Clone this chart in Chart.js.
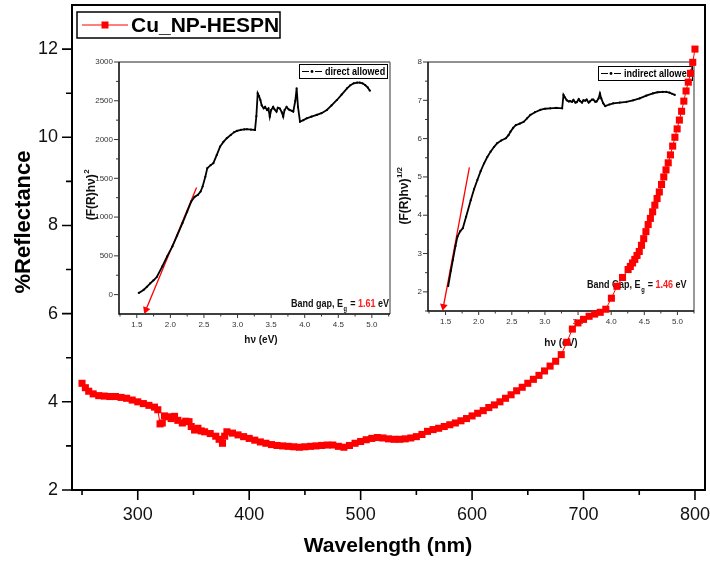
<!DOCTYPE html>
<html>
<head>
<meta charset="utf-8">
<script src="https://cdn.jsdelivr.net/npm/chart.js@4.4.1/dist/chart.umd.min.js"></script>
<style>
  html, body { margin: 0; padding: 0; background: #fff; }
  #wrap { position: relative; width: 710px; height: 563px; }
  canvas { position: absolute; }
</style>
</head>
<body>
<div id="wrap">
  <canvas id="inset1" width="315" height="300" style="left:80px;top:52px"></canvas>
  <canvas id="inset2" width="310" height="300" style="left:390px;top:52px"></canvas>
  <canvas id="main" width="710" height="563" style="left:0;top:0"></canvas>
</div>
<script>
// main curve: reflectance vs wavelength
const WAVELENGTH = [250, 253, 256, 260, 265, 270, 275, 280, 285, 290, 295, 300, 305, 310, 315, 318,
  320, 322, 324, 327, 330, 333, 336, 340, 343, 346, 348, 351, 354, 357, 360, 365, 370, 373, 376, 378,
  380, 385, 390, 395, 400, 405, 410, 415, 420, 425, 430, 435, 440, 445, 450, 455, 460, 465, 470, 475,
  480, 485, 490, 495, 500, 505, 510, 515, 520, 525, 530, 535, 540, 545, 550, 555, 560, 565, 570, 575,
  580, 585, 590, 595, 600, 605, 610, 615, 620, 625, 630, 635, 640, 645, 650, 655, 660, 665, 670, 675,
  680, 685, 690, 695, 700, 705, 710, 715, 720, 725, 730, 735, 740, 742, 744, 746, 748, 750, 752, 754,
  756, 758, 760, 762, 764, 766, 768, 770, 772, 774, 776, 778, 780, 782, 784, 786, 788, 790, 792, 794,
  796, 798, 800];
const REFLECTANCE = [4.42, 4.32, 4.24, 4.18, 4.14, 4.13, 4.12, 4.12, 4.10, 4.08, 4.04, 4.00, 3.96, 3.92, 3.88, 3.82,
  3.50, 3.52, 3.68, 3.66, 3.62, 3.67, 3.58, 3.52, 3.56, 3.55, 3.44, 3.36, 3.40, 3.34, 3.32, 3.28, 3.22, 3.15, 3.06, 3.22,
  3.32, 3.29, 3.25, 3.21, 3.17, 3.13, 3.09, 3.06, 3.03, 3.01, 3.00, 2.99, 2.98, 2.97, 2.98, 2.99, 3.00, 3.01, 3.02, 3.02,
  2.99, 2.97, 3.01, 3.06, 3.10, 3.14, 3.17, 3.19, 3.18, 3.16, 3.15, 3.15, 3.16, 3.18, 3.21, 3.26, 3.33, 3.37, 3.40, 3.44,
  3.48, 3.52, 3.57, 3.62, 3.68, 3.74, 3.80, 3.87, 3.93, 4.00, 4.08, 4.16, 4.25, 4.33, 4.42, 4.51, 4.60, 4.70, 4.81, 4.92,
  5.07, 5.35, 5.65, 5.79, 5.87, 5.94, 5.99, 6.03, 6.10, 6.35, 6.62, 6.82, 7.00, 7.07, 7.15, 7.23, 7.32, 7.41, 7.55, 7.70,
  7.86, 8.02, 8.16, 8.31, 8.46, 8.61, 8.76, 8.93, 9.10, 9.26, 9.42, 9.60, 9.80, 10.00, 10.19, 10.39, 10.59, 10.82, 11.05, 11.25,
  11.45, 11.70, 12.00];
const X_TICKS = [250, 300, 350, 400, 450, 500, 550, 600, 650, 700, 750, 800];
const Y_TICKS = [2, 3, 4, 5, 6, 7, 8, 9, 10, 11, 12];

// inset 1: direct allowed Tauc plot
const DIRECT_HV = [1.53, 1.60, 1.65, 1.70, 1.75, 1.80, 1.88, 1.95, 2.03, 2.10, 2.18, 2.25, 2.31, 2.36, 2.41, 2.45,
  2.48, 2.52, 2.55, 2.60, 2.64, 2.69, 2.74, 2.79, 2.84, 2.90, 2.95, 2.99, 3.05, 3.10, 3.14, 3.20, 3.26, 3.28, 3.30,
  3.32, 3.34, 3.36, 3.39, 3.41, 3.44, 3.46, 3.48, 3.50, 3.53, 3.55, 3.58, 3.60, 3.63, 3.66, 3.68, 3.70, 3.73, 3.76,
  3.78, 3.81, 3.83, 3.86, 3.88, 3.90, 3.93, 3.98, 4.03, 4.10, 4.18, 4.25, 4.33, 4.40, 4.48, 4.55, 4.63, 4.68, 4.73,
  4.78, 4.82, 4.86, 4.90, 4.94, 4.97];
const DIRECT_VAL = [22, 60, 100, 145, 185, 230, 364, 490, 622, 760, 923, 1070, 1200, 1260, 1287, 1330,
  1394, 1520, 1631, 1670, 1695, 1800, 1909, 1970, 2017, 2060, 2095, 2111, 2125, 2130, 2133, 2128, 2123, 2300, 2596,
  2560, 2510, 2440, 2403, 2420, 2380, 2400, 2295, 2380, 2420, 2390, 2360, 2410, 2400, 2350, 2295, 2380, 2420, 2390,
  2380, 2370, 2360, 2500, 2660, 2420, 2230, 2250, 2274, 2295, 2317, 2340, 2381, 2440, 2510, 2580, 2660, 2700, 2725,
  2733, 2733, 2725, 2703, 2670, 2630];
const DIRECT_FIT_HV = [1.636, 2.39];
const DIRECT_FIT_VAL = [-195, 1380];
const DIRECT_X_TICKS = [1.25, 1.5, 1.75, 2, 2.25, 2.5, 2.75, 3, 3.25, 3.5, 3.75, 4, 4.25, 4.5, 4.75, 5, 5.25];
const DIRECT_Y_TICKS = [0, 250, 500, 750, 1000, 1250, 1500, 1750, 2000, 2250, 2500, 2750, 3000];

// inset 2: indirect allowed Tauc plot
const INDIRECT_HV = [1.54, 1.58, 1.61, 1.65, 1.68, 1.72, 1.76, 1.81, 1.88, 1.93, 1.98, 2.03, 2.08, 2.13, 2.18, 2.23,
  2.28, 2.34, 2.41, 2.45, 2.48, 2.52, 2.56, 2.62, 2.68, 2.73, 2.78, 2.85, 2.93, 3.00, 3.08, 3.17, 3.26, 3.28, 3.30,
  3.33, 3.36, 3.38, 3.41, 3.43, 3.46, 3.48, 3.51, 3.53, 3.56, 3.58, 3.61, 3.63, 3.66, 3.68, 3.71, 3.73, 3.76, 3.78,
  3.81, 3.83, 3.85, 3.88, 3.91, 3.97, 4.03, 4.13, 4.23, 4.33, 4.43, 4.53, 4.63, 4.70, 4.78, 4.83, 4.88, 4.92, 4.96];
const INDIRECT_VAL = [2.15, 2.55, 2.83, 3.20, 3.44, 3.58, 3.66, 3.96, 4.39, 4.68, 4.92, 5.15, 5.35, 5.52, 5.66, 5.78,
  5.88, 5.95, 6.01, 6.09, 6.18, 6.28, 6.35, 6.39, 6.44, 6.53, 6.62, 6.69, 6.75, 6.78, 6.79, 6.80, 6.79, 7.14, 7.08,
  7.00, 6.97, 6.98, 6.96, 7.01, 6.94, 6.95, 7.03, 6.98, 6.94, 7.00, 6.99, 7.02, 6.94, 6.97, 7.02, 7.02, 6.96, 6.97,
  7.05, 7.18, 7.05, 6.92, 6.85, 6.89, 6.92, 6.94, 6.96, 7.00, 7.05, 7.12, 7.18, 7.21, 7.22, 7.22, 7.20, 7.17, 7.14];
const INDIRECT_FIT_HV = [1.468, 1.86];
const INDIRECT_FIT_VAL = [1.62, 5.25];
const INDIRECT_X_TICKS = [1.25, 1.5, 1.75, 2, 2.25, 2.5, 2.75, 3, 3.25, 3.5, 3.75, 4, 4.25, 4.5, 4.75, 5, 5.25];
const INDIRECT_Y_TICKS = [1.5, 2, 2.5, 3, 3.5, 4, 4.5, 5, 5.5, 6, 6.5, 7, 7.5, 8];

const FONT = "'Liberation Sans', Arial, Helvetica, sans-serif";
const NO_GRID = { display: false, drawTicks: false, tickLength: 0 };

function isMajor(v, step) {
  return Math.abs(v / step - Math.round(v / step)) < 1e-6;
}

function toPoints(xs, ys) {
  return xs.map((x, i) => ({ x: x, y: ys[i] }));
}

// draws tick marks from the scale's own ticks, long for major, short for minor
function drawTicks(ctx, scale, side, pos, majorStep, majorLen, minorLen) {
  ctx.beginPath();
  scale.ticks.forEach(t => {
    const p = scale.getPixelForValue(t.value);
    const len = isMajor(t.value, majorStep) ? majorLen : minorLen;
    if (side === 'bottom') { ctx.moveTo(p, pos); ctx.lineTo(p, pos + len); }
    else { ctx.moveTo(pos, p); ctx.lineTo(pos - len, p); }
  });
  ctx.stroke();
}

// text squeezed horizontally (narrow look of the original labels)
function narrowText(ctx, text, x, y, sx) {
  ctx.save();
  ctx.translate(x, y);
  ctx.scale(sx, 1);
  ctx.fillText(text, 0, 0);
  ctx.restore();
  return ctx.measureText(text).width * sx;
}

function fixedTicks(list) {
  return s => { s.ticks = list.filter(v => v >= s.min - 1e-9 && v <= s.max + 1e-9).map(v => ({ value: v })); };
}

const mainDeco = {
  id: 'mainDeco',
  beforeDatasetsDraw(chart) {
    const { ctx, chartArea: a, scales } = chart;
    ctx.save();
    ctx.strokeStyle = '#000';
    ctx.lineWidth = 2;
    ctx.strokeRect(a.left, a.top, a.right - a.left, a.bottom - a.top);
    ctx.lineWidth = 1.6;
    drawTicks(ctx, scales.x, 'bottom', a.bottom, 100, 10, 5);
    drawTicks(ctx, scales.y, 'left', a.left, 2, 10, 6);
    ctx.restore();
  },
  afterDraw(chart) {
    const ctx = chart.ctx;
    ctx.save();
    ctx.fillStyle = '#000';
    ctx.font = 'bold 21px ' + FONT;
    ctx.textAlign = 'center';
    ctx.textBaseline = 'middle';
    ctx.fillText('Wavelength (nm)', 388, 546);
    ctx.save();
    ctx.translate(24, 222);
    ctx.rotate(-Math.PI / 2);
    ctx.font = 'bold 22px ' + FONT;
    ctx.fillText('%Reflectance', 0, 0);
    ctx.restore();

    // legend box
    ctx.fillStyle = '#fff';
    ctx.fillRect(77, 12, 203, 26);
    ctx.strokeStyle = '#000';
    ctx.lineWidth = 1.5;
    ctx.strokeRect(77, 12, 203, 26);
    ctx.strokeStyle = '#f00';
    ctx.lineWidth = 1.2;
    ctx.beginPath();
    ctx.moveTo(82, 25);
    ctx.lineTo(128, 25);
    ctx.stroke();
    ctx.fillStyle = '#f00';
    ctx.fillRect(101.5, 21.5, 7, 7);
    ctx.fillStyle = '#000';
    ctx.textAlign = 'left';
    ctx.fillText('Cu_NP-HESPN', 131, 26);
    ctx.restore();
  }
};

new Chart(document.getElementById('main'), {
  type: 'scatter',
  data: {
    datasets: [{
      label: 'Cu_NP-HESPN',
      data: toPoints(WAVELENGTH, REFLECTANCE),
      showLine: true,
      borderColor: '#ff0000',
      borderWidth: 1,
      pointStyle: 'rect',
      pointRadius: 5,
      pointBackgroundColor: '#ff0000',
      pointBorderWidth: 0
    }]
  },
  options: {
    responsive: false,
    animation: false,
    layout: { padding: { left: 0, right: 5, top: 3, bottom: 0 } },
    plugins: { legend: { display: false }, tooltip: { enabled: false } },
    scales: {
      x: {
        type: 'linear', min: 241, max: 809,
        afterBuildTicks: fixedTicks(X_TICKS),
        afterFit: s => { s.height = 73; s.paddingLeft = 0; s.paddingRight = 0; },
        grid: NO_GRID, border: { display: false },
        ticks: {
          callback: v => isMajor(v, 100) ? String(v) : '',
          font: { family: FONT, size: 18 }, color: '#111', padding: 14,
          maxRotation: 0, autoSkip: false
        }
      },
      y: {
        type: 'linear', min: 2, max: 13,
        afterBuildTicks: fixedTicks(Y_TICKS),
        afterFit: s => { s.width = 72; s.paddingTop = 0; s.paddingBottom = 0; },
        grid: NO_GRID, border: { display: false },
        ticks: {
          callback: v => isMajor(v, 2) ? String(v) : '',
          font: { family: FONT, size: 18 }, color: '#111', padding: 14, autoSkip: false
        }
      }
    }
  },
  plugins: [mainDeco]
});

function insetDeco(cfg) {
  return {
    id: 'insetDeco',
    beforeDatasetsDraw(chart) {
      const { ctx, chartArea: a, scales } = chart;
      ctx.save();
      ctx.lineWidth = 1;
      ctx.strokeStyle = '#222';
      ctx.beginPath(); ctx.moveTo(a.left, a.top); ctx.lineTo(a.right, a.top); ctx.stroke();
      ctx.strokeStyle = '#777';
      ctx.lineWidth = 1.5;
      ctx.beginPath(); ctx.moveTo(a.right, a.top); ctx.lineTo(a.right, a.bottom); ctx.stroke();
      ctx.strokeStyle = '#000';
      ctx.lineWidth = 1.5;
      ctx.beginPath();
      ctx.moveTo(a.left, a.top); ctx.lineTo(a.left, a.bottom); ctx.lineTo(a.right, a.bottom);
      ctx.stroke();
      ctx.lineWidth = 1;
      ctx.strokeStyle = '#333';
      drawTicks(ctx, scales.x, 'bottom', a.bottom, 0.5, 4, 2.5);
      drawTicks(ctx, scales.y, 'left', a.left, cfg.yMajor, 5, 3);
      ctx.restore();
    },
    afterDraw(chart) {
      const ctx = chart.ctx;
      ctx.save();
      ctx.fillStyle = '#111';
      ctx.textBaseline = 'middle';
      ctx.textAlign = 'center';
      ctx.font = 'bold 10px ' + FONT;
      ctx.fillText('h\u03bd (eV)', cfg.xTitle[0], cfg.xTitle[1]);

      // rotated y title with superscript
      ctx.save();
      ctx.translate(cfg.yTitle[0], cfg.yTitle[1]);
      ctx.rotate(-Math.PI / 2);
      ctx.font = 'bold 12px ' + FONT;
      const base = '(F(R)h\u03bd)';
      const bw = ctx.measureText(base).width;
      ctx.font = 'bold 8px ' + FONT;
      const sw = ctx.measureText(cfg.yPower).width;
      const x0 = -(bw + sw) / 2;
      ctx.textAlign = 'left';
      ctx.font = 'bold 12px ' + FONT;
      ctx.fillText(base, x0, 1);
      ctx.font = 'bold 8px ' + FONT;
      ctx.fillText(cfg.yPower, x0 + bw + 0.5, -4);
      ctx.restore();

      // legend box
      const [lx, ly, lw, lh] = cfg.legendBox;
      ctx.fillStyle = '#fff';
      ctx.fillRect(lx, ly, lw, lh);
      ctx.strokeStyle = '#000';
      ctx.lineWidth = 1;
      ctx.strokeRect(lx + 0.5, ly + 0.5, lw, lh);
      const cy = ly + lh / 2 + 0.5;
      ctx.lineWidth = 1.2;
      ctx.beginPath();
      ctx.moveTo(lx + 3, cy); ctx.lineTo(lx + 10, cy);
      ctx.moveTo(lx + 16, cy); ctx.lineTo(lx + 23, cy);
      ctx.stroke();
      ctx.fillStyle = '#000';
      ctx.beginPath(); ctx.arc(lx + 13, cy, 1.4, 0, Math.PI * 2); ctx.fill();
      ctx.textAlign = 'left';
      ctx.font = 'bold 11px ' + FONT;
      narrowText(ctx, cfg.legend, lx + 26, cy + 0.5, 0.82);

      // band gap annotation
      let x = cfg.gapPos[0];
      const y = cfg.gapPos[1];
      ctx.textBaseline = 'alphabetic';
      ctx.fillStyle = '#111';
      ctx.font = 'bold 11px ' + FONT;
      x += narrowText(ctx, cfg.gapLabel + ', E', x, y, 0.82);
      ctx.font = 'bold 7px ' + FONT;
      x += narrowText(ctx, 'g', x + 0.5, y + 4, 0.82) + 1;
      ctx.font = 'bold 11px ' + FONT;
      x += narrowText(ctx, ' = ', x, y, 0.82);
      ctx.fillStyle = '#ff1a1a';
      x += narrowText(ctx, cfg.gapValue, x, y, 0.82);
      ctx.fillStyle = '#111';
      narrowText(ctx, ' eV', x, y, 0.82);
      ctx.restore();
    }
  };
}

function insetChart(id, cfg) {
  return new Chart(document.getElementById(id), {
    type: 'scatter',
    data: {
      datasets: [{
        data: toPoints(cfg.hv, cfg.val),
        showLine: true,
        borderColor: '#000',
        borderWidth: 1.8,
        pointRadius: 1.1,
        pointBackgroundColor: '#000',
        pointBorderWidth: 0
      }, {
        data: toPoints(cfg.fitHv, cfg.fitVal),
        showLine: true,
        borderColor: '#ff0000',
        borderWidth: 1.3,
        pointStyle: 'triangle',
        pointRadius: [4.5, 0],
        pointRotation: [cfg.arrowRot, 0],
        pointBackgroundColor: '#ff0000',
        pointBorderWidth: 0,
        clip: 8
      }]
    },
    options: {
      responsive: false,
      animation: false,
      layout: { padding: { left: 0, right: cfg.padRight, top: cfg.padTop, bottom: 0 } },
      plugins: { legend: { display: false }, tooltip: { enabled: false } },
      scales: {
        x: {
          type: 'linear', min: cfg.xRange[0], max: cfg.xRange[1],
          afterBuildTicks: fixedTicks(cfg.xTicks),
          afterFit: s => { s.height = cfg.xHeight; s.paddingLeft = 0; s.paddingRight = 0; },
          grid: NO_GRID, border: { display: false },
          ticks: {
            callback: v => isMajor(v, 0.5) ? v.toFixed(1) : '',
            font: { family: FONT, size: 8 }, color: '#333', padding: 6,
            maxRotation: 0, autoSkip: false
          }
        },
        y: {
          type: 'linear', min: cfg.yRange[0], max: cfg.yRange[1],
          afterBuildTicks: fixedTicks(cfg.yTicks),
          afterFit: s => { s.width = cfg.yWidth; s.paddingTop = 0; s.paddingBottom = 0; },
          grid: NO_GRID, border: { display: false },
          ticks: {
            callback: v => isMajor(v, cfg.yMajor) ? String(v) : '',
            font: { family: FONT, size: 8 }, color: '#333', padding: 6, autoSkip: false
          }
        }
      }
    },
    plugins: [insetDeco(cfg)]
  });
}

insetChart('inset1', {
  hv: DIRECT_HV, val: DIRECT_VAL, fitHv: DIRECT_FIT_HV, fitVal: DIRECT_FIT_VAL,
  xTicks: DIRECT_X_TICKS, yTicks: DIRECT_Y_TICKS,
  xRange: [1.235, 5.27], yRange: [-250, 3000], yMajor: 500,
  arrowRot: 202, padTop: 10, padRight: 5, xHeight: 38, yWidth: 39,
  xTitle: [181, 288], yTitle: [11, 143], yPower: '2',
  legendBox: [219, 12, 88, 14], legend: 'direct allowed',
  gapPos: [211, 255], gapLabel: 'Band gap', gapValue: '1.61'
});

insetChart('inset2', {
  hv: INDIRECT_HV, val: INDIRECT_VAL, fitHv: INDIRECT_FIT_HV, fitVal: INDIRECT_FIT_VAL,
  xTicks: INDIRECT_X_TICKS, yTicks: INDIRECT_Y_TICKS,
  xRange: [1.235, 5.25], yRange: [1.5, 8], yMajor: 1,
  arrowRot: 191, padTop: 10, padRight: 6, xHeight: 41, yWidth: 38,
  xTitle: [171, 291], yTitle: [14, 144], yPower: '1/2',
  legendBox: [208, 14, 94, 14], legend: 'indirect allowed',
  gapPos: [197, 236], gapLabel: 'Band Gap', gapValue: '1.46'
});
</script>
</body>
</html>
